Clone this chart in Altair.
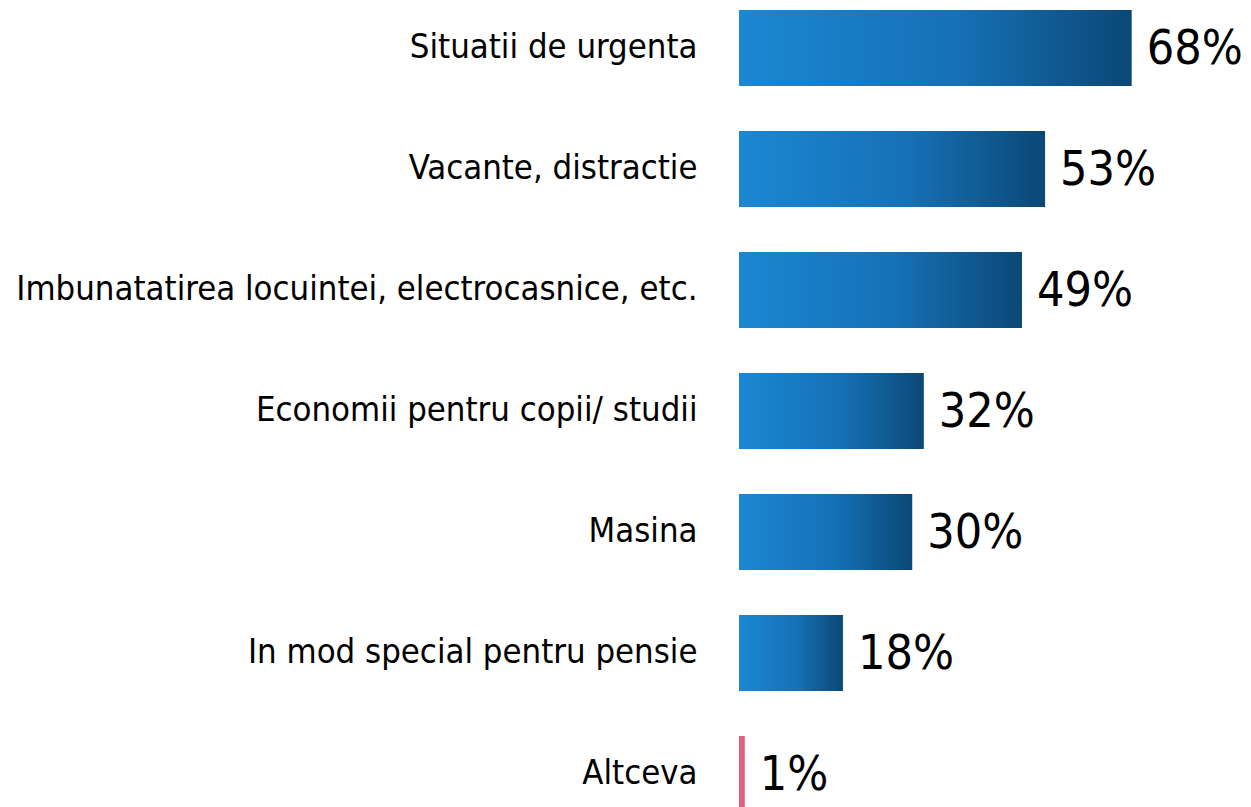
import altair as alt
import pandas as pd

categories = [
    "Situatii de urgenta",
    "Vacante, distractie",
    "Imbunatatirea locuintei, electrocasnice, etc.",
    "Economii pentru copii/ studii",
    "Masina",
    "In mod special pentru pensie",
    "Altceva",
]
values = [68, 53, 49, 32, 30, 18, 1]
labels = ["68%", "53%", "49%", "32%", "30%", "18%", "1%"]
kinds = ["main", "main", "main", "main", "main", "main", "other"]

df = pd.DataFrame({"cat": categories, "val": values, "lab": labels, "kind": kinds})

FONT = "'DejaVu Sans Condensed', 'DejaVu Sans', sans-serif"

grad = alt.Gradient(
    gradient="linear",
    stops=[
        alt.GradientStop(color="#1b87d3", offset=0),
        alt.GradientStop(color="#1671b6", offset=0.55),
        alt.GradientStop(color="#0b4876", offset=1),
    ],
    x1=0, x2=1, y1=0, y2=0,
)

y = alt.Y(
    "cat:N",
    sort=categories,
    scale=alt.Scale(paddingInner=0.372, paddingOuter=0.0165),
    axis=alt.Axis(
        title=None, domain=False, ticks=False, labelPadding=42,
        labelFont=FONT, labelFontSize=34.4, labelColor="#000000", labelLimit=0,
    ),
)
x = alt.X("val:Q", scale=alt.Scale(domain=[0, 80]), axis=None)

base = alt.Chart(df)

bars_main = base.transform_filter(alt.datum.kind == "main").mark_bar(
    color=grad, cornerRadius=0
).encode(x=x, y=y)

bars_other = base.transform_filter(alt.datum.kind == "other").mark_bar(
    color="#e0607e"
).encode(x=x, y=y)

text = base.mark_text(
    align="left", baseline="middle", dx=15, dy=2, font=FONT, fontSize=48, color="#000000"
).encode(x=x, y=y, text="lab:N")

chart = (
    alt.layer(bars_main, bars_other, text)
    .properties(
        width=462,
        height=806,
        autosize=alt.AutoSizeParams(type="none"),
        padding={"left": 731, "top": 0, "right": 42, "bottom": 0},
    )
    .configure_view(stroke=None)
)

chart.save("out.html", embed_options={"renderer": "svg", "actions": False})
